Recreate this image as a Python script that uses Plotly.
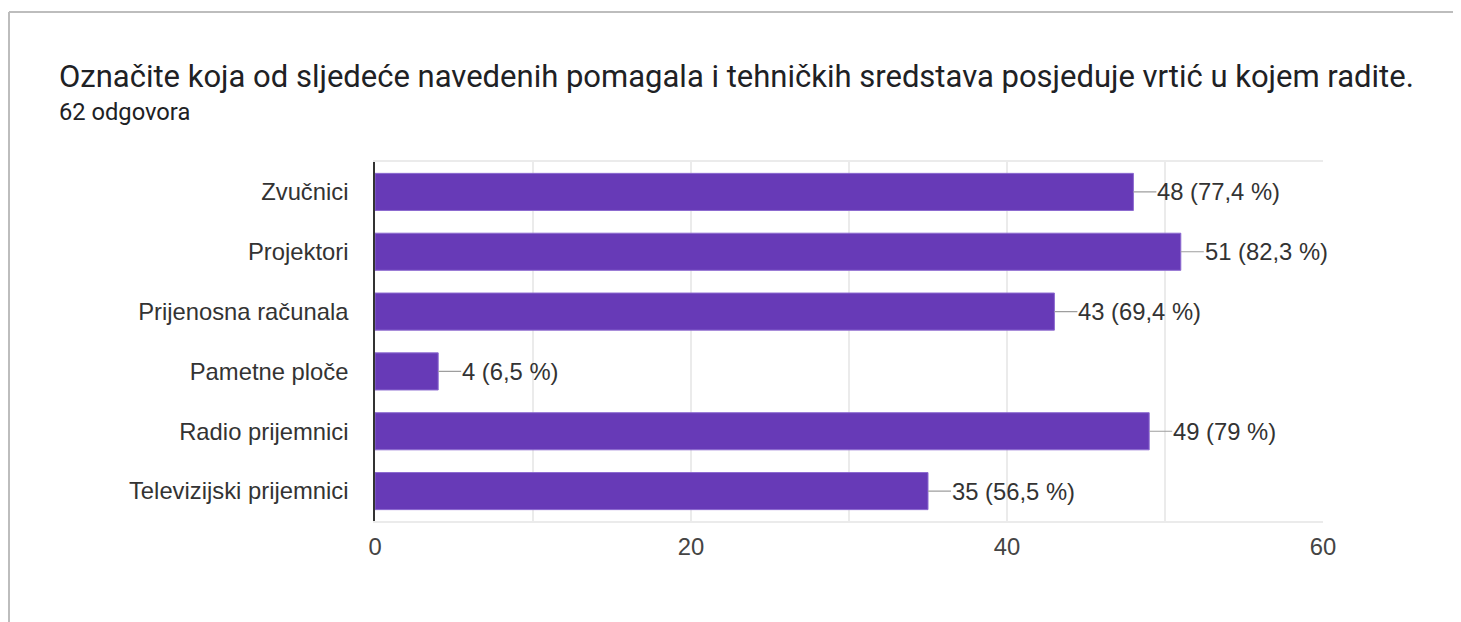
import plotly.graph_objects as go

categories = ["Zvučnici", "Projektori", "Prijenosna računala", "Pametne ploče",
              "Radio prijemnici", "Televizijski prijemnici"]
counts = [48, 51, 43, 4, 49, 35]
percents = ["77,4", "82,3", "69,4", "6,5", "79", "56,5"]
tick_vals = [0, 20, 40, 60]

# page body adds an 8px offset, so figure coordinates are shifted by 8
OFF = 8
W, H = 1461 - OFF, 622 - OFF
L, R, T, B = 375 - OFF, 138, 162 - OFF, 101

LABEL_FONT = "Arial, Liberation Sans"
LS = 23.8

fig = go.Figure()
fig.add_trace(go.Bar(
    x=counts, y=categories, orientation="h",
    marker=dict(color="#673ab7", line=dict(color="#8c6ad0", width=1)),
    hoverinfo="skip",
))

for c, v, p in zip(categories, counts, percents):
    fig.add_annotation(
        x=v, y=c, xref="x", yref="y",
        text=f"{v} ({p} %)", showarrow=True, arrowhead=0,
        arrowcolor="#9e9e9e", arrowwidth=1.2, ax=23, ay=0,
        xanchor="left", font=dict(family=LABEL_FONT, size=LS, color="#333333"),
        borderpad=0, standoff=0,
    )

def px_x(px):
    return (px - OFF - L) / (W - L - R)

def px_y(py):
    return 1 - (py - OFF - T) / (H - T - B)

# outer card frame
fig.add_shape(type="line", xref="paper", yref="paper",
              x0=px_x(9), x1=px_x(1470), y0=px_y(12), y1=px_y(12),
              line=dict(color="#bdbdbd", width=2))
fig.add_shape(type="line", xref="paper", yref="paper",
              x0=px_x(9), x1=px_x(9), y0=px_y(12), y1=px_y(640),
              line=dict(color="#bdbdbd", width=2))

fig.add_annotation(xref="paper", yref="paper", x=px_x(57), y=px_y(76),
                   xanchor="left", yanchor="middle", showarrow=False,
                   text="Označite koja od sljedeće navedenih pomagala i tehničkih sredstava posjeduje vrtić u kojem radite.",
                   font=dict(family="Roboto", size=31, color="#202124"))
fig.add_annotation(xref="paper", yref="paper", x=px_x(57), y=px_y(112),
                   xanchor="left", yanchor="middle", showarrow=False,
                   text="62 odgovora",
                   font=dict(family="Roboto", size=23.7, color="#202124"))

fig.update_layout(
    width=W, height=H,
    margin=dict(l=L, r=R, t=T, b=B),
    paper_bgcolor="white", plot_bgcolor="white",
    showlegend=False, bargap=0.38,
    font=dict(family=LABEL_FONT, size=LS, color="#444444"),
    xaxis=dict(range=[0, 60], tickvals=tick_vals, showgrid=True, gridcolor="#ebebeb",
               gridwidth=1.5,
               minor=dict(dtick=10, showgrid=True, gridcolor="#ebebeb", gridwidth=1.5),
               showline=True, linecolor="#ebebeb", linewidth=1.5, mirror=True,
               zeroline=False, ticks="", ticklabelstandoff=4,
               tickfont=dict(family=LABEL_FONT, size=LS, color="#444444"), fixedrange=True),
    yaxis=dict(autorange="reversed", showline=True, linecolor="#333333", linewidth=1.5,
               ticks="", ticklabelstandoff=20, showgrid=False,
               tickfont=dict(family=LABEL_FONT, size=LS, color="#333333"), fixedrange=True),
)

fig.write_html("out.html")
